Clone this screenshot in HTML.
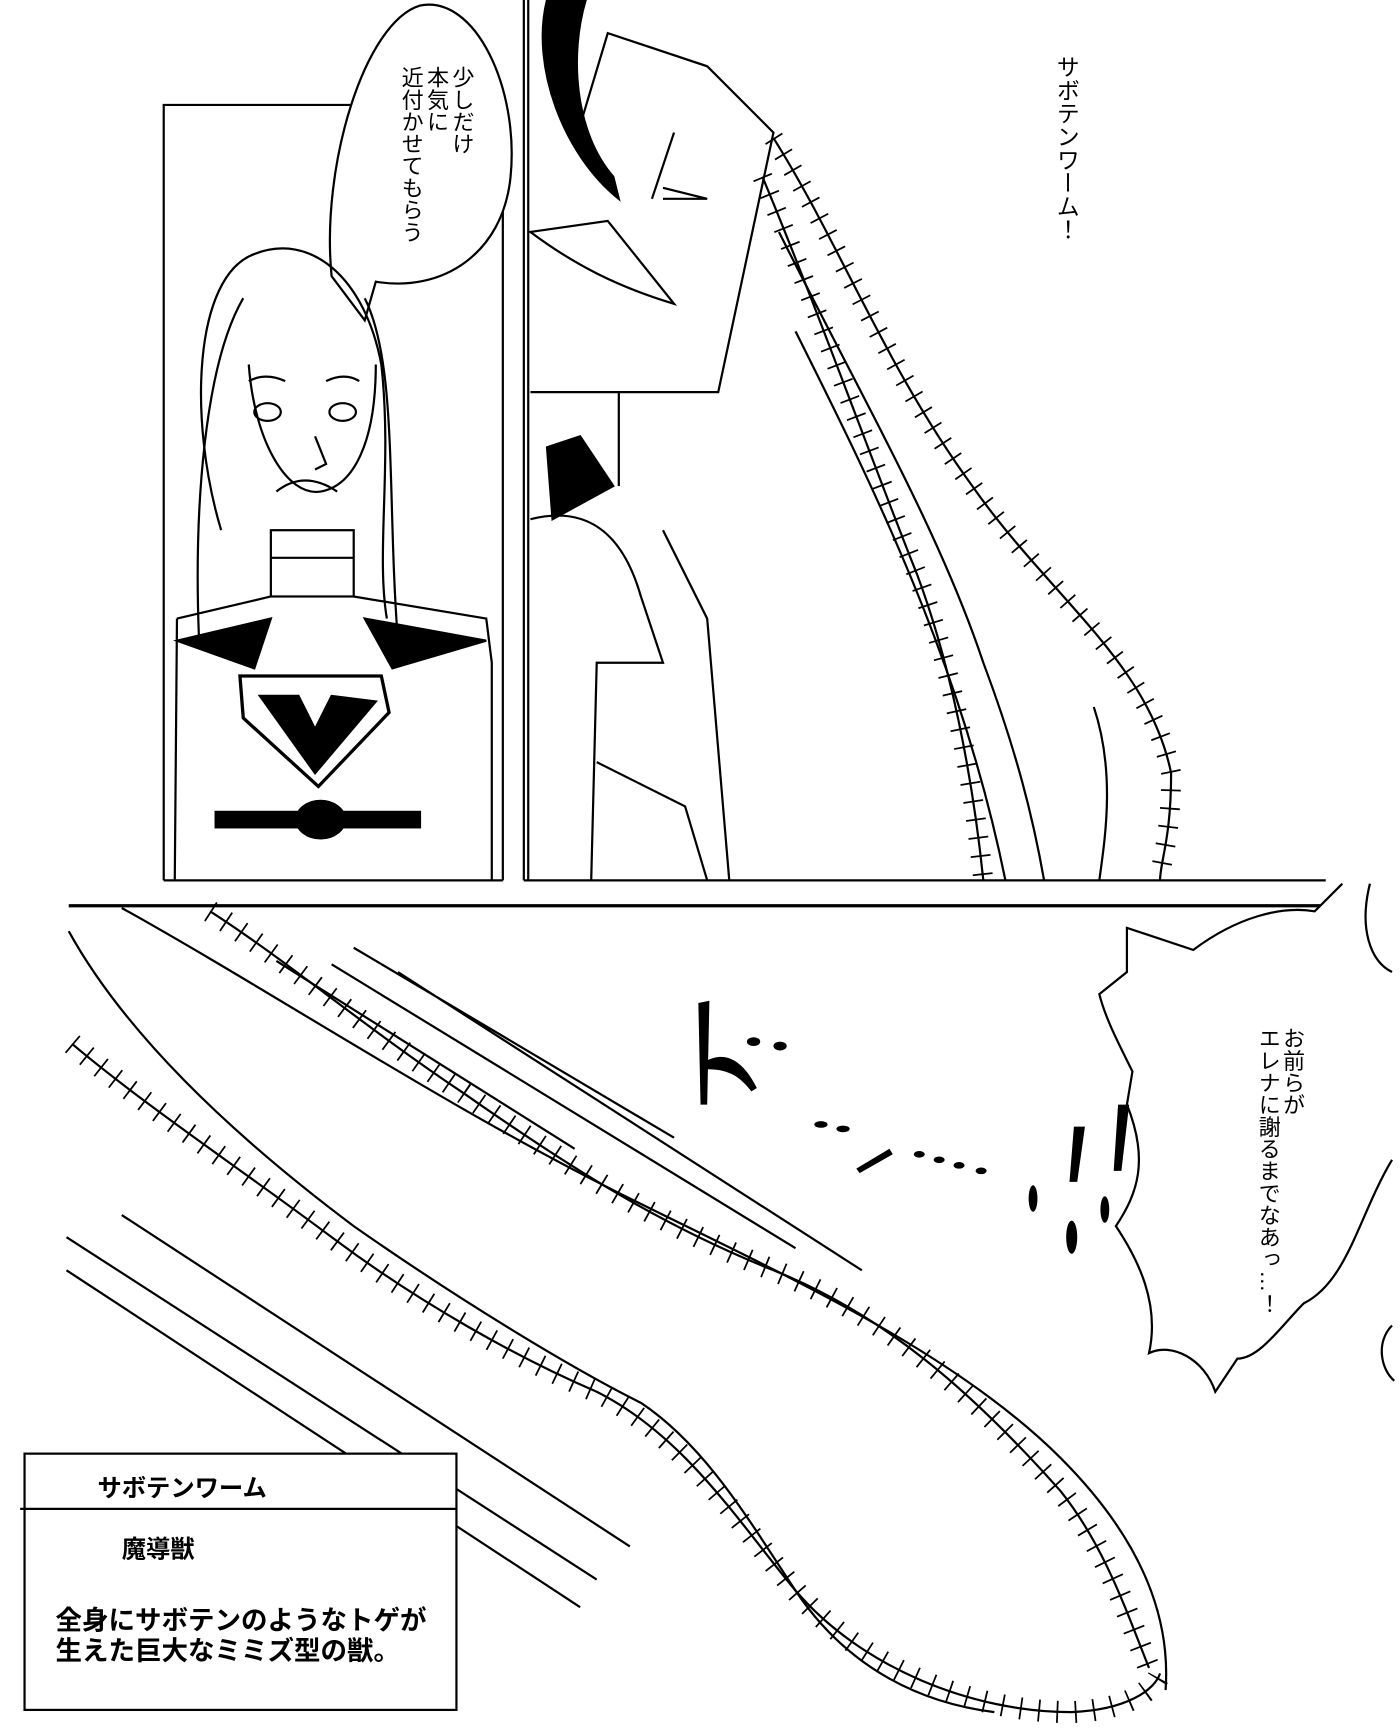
<!DOCTYPE html>
<html><head><meta charset="utf-8"><style>
html,body{margin:0;padding:0;background:#fff;width:1400px;height:1732px;overflow:hidden}
svg{display:block}
.t{font-family:"Liberation Sans","Noto Sans CJK JP",sans-serif;fill:#000}
</style></head><body>
<svg width="1400" height="1732" viewBox="0 0 1267 1568" xmlns="http://www.w3.org/2000/svg">
<g fill="none" stroke="#000" stroke-width="2">
<polyline points="148,797 148,95 455,95 455,797"/>
<line x1="148" y1="797" x2="455" y2="797"/>
<line x1="474" y1="0" x2="474" y2="797"/>
<line x1="478" y1="0" x2="478" y2="797"/>
<line x1="474" y1="797" x2="1200" y2="797"/>
<line x1="62" y1="820" x2="1200" y2="820" stroke-width="3"/>
<path d="M330,290 L300,250 C290,150 330,20 380,5 C430,-5 470,80 462,160 C455,230 400,265 340,255 Z" fill="#fff"/>
<path d="M200,480 C170,380 175,250 230,230 C280,210 330,250 345,330 C355,420 340,500 350,560"/>
<path d="M180,580 C175,460 185,330 220,270 M330,270 C360,330 350,450 360,580"/>
<path d="M225,330 C230,400 260,450 290,445 C320,440 340,400 340,330"/>
<ellipse cx="242" cy="373" rx="12" ry="8"/><ellipse cx="310" cy="373" rx="12" ry="8"/>
<path d="M225,345 Q240,337 258,345 M295,345 Q312,337 325,345"/>
<path d="M285,395 L295,420 L285,425"/>
<path d="M250,445 Q275,425 305,445"/>
<rect x="245" y="480" width="75" height="60"/>
<line x1="245" y1="505" x2="320" y2="505"/>
<path d="M160,560 L245,540 M320,540 L440,560 L445,600 L445,797 M160,560 L158,797"/>
<path d="M217,612 L345,612 L352,645 L288,712 L220,650 Z" stroke-width="3"/>
<path d="M235,630 L270,630 L285,660 L300,630 L340,635 L285,700 Z" fill="#000"/>
<rect x="195" y="735" width="185" height="14" fill="#000"/>
<ellipse cx="290" cy="742" rx="22" ry="17" fill="#000"/>
<path d="M160,580 L245,560 L230,605 Z M330,560 L440,580 L355,605 Z" fill="#000"/>
<path d="M495,0 C480,60 510,140 560,180 L555,160 C520,120 515,50 530,0 Z" fill="#000"/>
<path d="M520,130 L550,30 L640,60 L700,120 L650,355 L480,355"/>
<path d="M590,180 L610,120 M600,170 L640,180 L600,180"/>
<path d="M480,210 C520,240 560,260 610,275 L550,200 Z"/>
<path d="M495,405 L525,395 L555,440 L500,470 Z" fill="#000"/>
<path d="M480,470 C520,460 560,470 580,540 L600,600 L540,600 L535,797"/>
<path d="M560,355 L560,440 M600,480 L640,560 L660,797 M540,690 L620,730 L640,797"/>
<path d="M700,125 C760,220 800,330 880,440 C950,540 1040,600 1060,700 C1060,760 1050,780 1050,797"/>
<path d="M690,160 C740,280 790,420 830,520 C860,600 880,700 890,797"/>
<path d="M705,210 C780,360 850,480 890,600 C920,680 935,740 945,797"/>
<path d="M720,300 C790,440 870,600 910,797"/>
<path d="M990,640 C1010,700 1000,760 995,797"/>
</g>
<g fill="none" stroke="#000" stroke-width="18" stroke-dasharray="1.6 15">
<path d="M700,125 C760,220 800,330 880,440 C950,540 1040,600 1060,700 C1060,760 1050,780 1050,797"/>
<path d="M690,160 C740,280 790,420 830,520 C860,600 880,700 890,797"/>
</g>
<g fill="none" stroke="#000" stroke-width="2">
<path d="M190,825 C260,870 330,930 420,990 C520,1060 600,1110 700,1150 C800,1190 880,1260 960,1350 C1000,1400 1020,1460 1040,1510"/>
<path d="M110,822 C250,900 400,1000 560,1080 C700,1150 860,1220 960,1320 C1030,1390 1060,1460 1055,1530"/>
<path d="M62,843 C110,930 200,1020 320,1110 C420,1180 520,1240 580,1270 C640,1310 680,1380 720,1440 C760,1500 820,1540 900,1550"/>
<path d="M65,945 C130,1000 220,1060 300,1120 C380,1180 470,1230 540,1260 C620,1300 670,1380 720,1440 C780,1510 880,1550 970,1550 C1020,1548 1045,1530 1050,1515"/>
<path d="M320,858 L610,1030 M360,880 L780,1150 M300,873 L720,1130 M250,870 L520,1040"/>
<path d="M60,1120 L540,1430 M60,1150 L525,1455 M110,1100 L570,1400"/>
</g>
<g fill="none" stroke="#000" stroke-width="20" stroke-dasharray="1.6 15">
<path d="M190,825 C260,870 330,930 420,990 C520,1060 600,1110 700,1150 C800,1190 880,1260 960,1350 C1000,1400 1020,1460 1040,1510"/>
<path d="M65,945 C130,1000 220,1060 300,1120 C380,1180 470,1230 540,1260 C620,1300 670,1380 720,1440 C780,1510 880,1550 970,1550 C1020,1548 1045,1530 1050,1515"/>
</g>
<path d="M1240,800 C1230,840 1240,870 1260,880 M1260,1200 C1245,1215 1250,1240 1262,1250 M1260,1050 C1230,1100 1220,1160 1180,1180 C1160,1200 1140,1230 1120,1230 L1100,1260 C1090,1230 1060,1215 1040,1225 C1050,1180 1030,1140 1010,1110 C1030,1080 1040,1050 1020,1000 L1025,970 C1010,940 1000,920 995,900 L1020,880 L1020,840 L1080,860 C1120,830 1160,820 1190,825 L1215,800" fill="#fff" stroke="#000" stroke-width="2"/>
<g fill="#000">
<path d="M632,908 L642,906 L640,1000 L634,1000 Z"/>
<path d="M640,960 C660,950 675,965 685,985 L680,988 C670,975 660,968 640,968 Z"/>
<ellipse cx="682" cy="943" rx="6" ry="4"/><ellipse cx="706" cy="947" rx="6" ry="4"/>
<ellipse cx="743" cy="1018" rx="6" ry="3"/><ellipse cx="763" cy="1022" rx="6" ry="3"/>
<path d="M775,1058 L805,1040 L808,1045 L778,1062 Z"/>
<ellipse cx="832" cy="1045" rx="5" ry="3"/><ellipse cx="850" cy="1050" rx="5" ry="3"/><ellipse cx="868" cy="1055" rx="5" ry="3"/><ellipse cx="888" cy="1060" rx="5" ry="3"/>
<ellipse cx="935" cy="1085" rx="4" ry="12"/>
<path d="M1012,1000 L1022,1000 L1015,1060 L1008,1060 Z"/>
<path d="M972,1020 L982,1020 L975,1070 L968,1070 Z"/>
<ellipse cx="970" cy="1120" rx="5" ry="15"/><ellipse cx="1000" cy="1095" rx="4" ry="12"/>
</g>
<g fill="#fff" stroke="#000" stroke-width="2">
<rect x="22" y="1316" width="391" height="232"/>
<line x1="18" y1="1366" x2="413" y2="1366"/>
</g>
<text class="t" x="88" y="1355" font-size="22" font-weight="bold">サボテンワーム</text>
<text class="t" x="110" y="1410" font-size="22" font-weight="bold">魔導獣</text>
<text class="t" x="50" y="1475" font-size="24" font-weight="bold">全身にサボテンのようなトゲが</text>
<text class="t" x="50" y="1503" font-size="24" font-weight="bold">生えた巨大なミミズ型の獣。</text>
<g class="t" font-size="20">
<text x="965" y="50" style="writing-mode:tb" font-size="21">サボテンワーム！</text>
<text x="418" y="60" style="writing-mode:tb">少しだけ</text>
<text x="395" y="60" style="writing-mode:tb">本気に</text>
<text x="372" y="60" style="writing-mode:tb">近付かせてもらう</text>
<text x="1170" y="930" style="writing-mode:tb">お前らが</text>
<text x="1148" y="930" style="writing-mode:tb">エレナに謝るまでなあっ…！</text>
</g>
</svg>
</body></html>
